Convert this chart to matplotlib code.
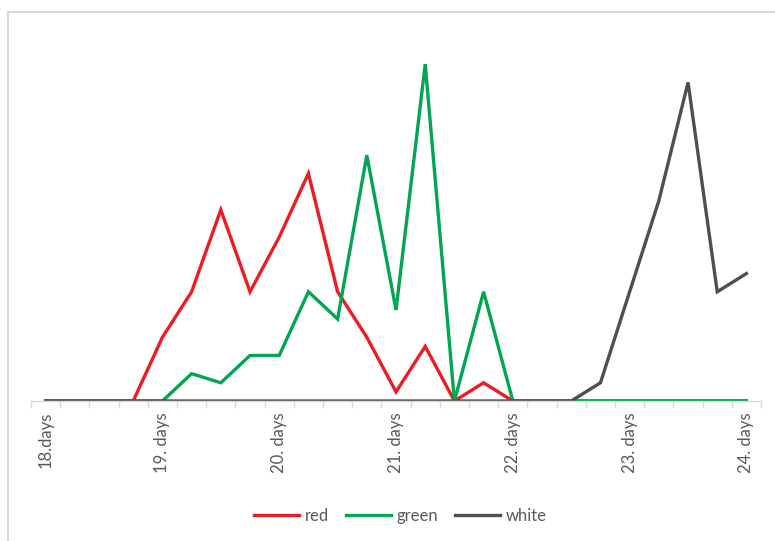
import numpy as np
import matplotlib.pyplot as plt
from matplotlib.patches import Rectangle

plt.rcParams['font.family'] = ['Lato', 'DejaVu Sans']

# daily readings, four samples per day from day 18 to day 24
tick_labels = ['18.days', '19. days', '20. days', '21. days', '22. days', '23. days', '24. days']
red = [0, 0, 0, 0, 7, 12, 21, 12, 18, 25, 12, 7, 1, 6, 0, 2, 0, 0, 0, 0, 0, 0, 0, 0, 0]
green = [0, 0, 0, 0, 0, 3, 2, 5, 5, 12, 9, 27, 10, 37, 0, 12, 0, 0, 0, 0, 0, 0, 0, 0, 0]
white = [0, 0, 0, 0, 0, 0, 0, 0, 0, 0, 0, 0, 0, 0, 0, 0, 0, 0, 0, 2, 12, 22, 35, 12, 14]

x = np.arange(len(red))

fig = plt.figure(figsize=(7.75, 5.41), dpi=100)
ax = fig.add_axes([0.04, 0.2588, 0.942, 0.673])

ax.plot(x, red, color='#ED1C24', lw=2.4, label='red', solid_joinstyle='miter')
ax.plot(x, green, color='#00A650', lw=2.4, label='green', solid_joinstyle='miter')
ax.plot(x, white, color='#4D4F52', lw=2.4, label='white', solid_joinstyle='miter')

ax.set_xlim(-0.5, len(x) - 0.5)
ax.set_ylim(0, 40)

for side in ['top', 'right', 'left']:
    ax.spines[side].set_visible(False)
ax.spines['bottom'].set_color('#D9D9D9')
ax.spines['bottom'].set_linewidth(1.0)
ax.set_yticks([])

# category labels every fourth sample, tick marks between samples
ax.set_xticks(x[::4])
ax.set_xticklabels(tick_labels, rotation=90, fontsize=12, color='#595959')
ax.tick_params(axis='x', which='major', length=0, pad=8)
ax.set_xticks(np.arange(-0.5, len(x), 1.0), minor=True)
ax.tick_params(axis='x', which='minor', length=5, color='#D9D9D9', width=1.0)

leg = fig.legend(loc='center', bbox_to_anchor=(0.517, 0.047), ncol=3, frameon=False,
                 fontsize=12, handlelength=2.7, handletextpad=0.35, columnspacing=1.0)
for t in leg.get_texts():
    t.set_color('#595959')

# outer chart frame
fig.patches.append(Rectangle((8 / 775, -0.1), 1.2, 1 - 12 / 541 + 0.1, transform=fig.transFigure,
                             fill=False, edgecolor='#D9D9D9', lw=1.5))

fig.savefig('out.png', dpi=100)
